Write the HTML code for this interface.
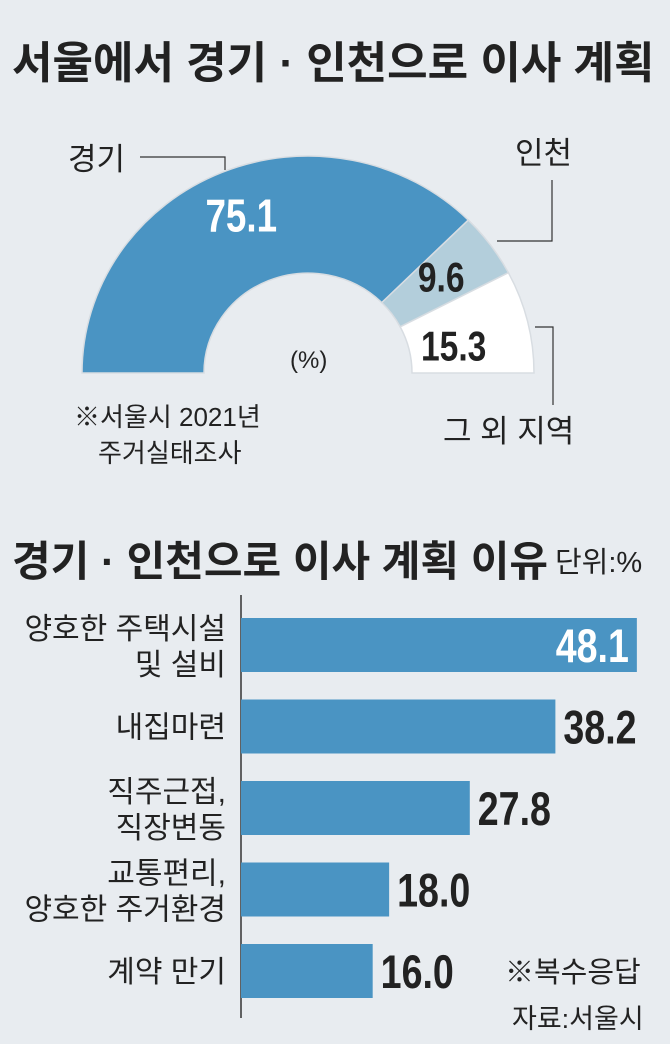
<!DOCTYPE html>
<html><head><meta charset="utf-8"><style>
body{margin:0;width:670px;height:1044px;background:#e8ecf0;overflow:hidden;font-family:"Liberation Sans","Noto Sans CJK KR",sans-serif;}
svg{position:absolute;left:0;top:0}
</style></head><body>
<svg width="670" height="1044">
<text x="12" y="78" font-size="44" font-weight="bold" fill="#222" font-family="Liberation Sans, Noto Sans CJK KR, sans-serif">서울에서 경기 · 인천으로  이사 계획</text>
<g id="donut"></g>
<g id="donutLabels" font-family="Liberation Sans, Noto Sans CJK KR, sans-serif">
<text x="68" y="170" font-size="31" fill="#222">경기</text>
<polyline points="140,157 225,157 225,170" fill="none" stroke="#333" stroke-width="1.2"/>
<text x="515" y="164" font-size="31" fill="#222">인천</text>
<polyline points="552,180 552,241 497,241" fill="none" stroke="#333" stroke-width="1.2"/>
<text x="443" y="442" font-size="31" fill="#222">그 외 지역</text>
<polyline points="535,327 553,327 553,405" fill="none" stroke="#333" stroke-width="1.2"/>
<text x="290" y="368" font-size="24" fill="#222">(%)</text>
<text x="74" y="426" font-size="26" fill="#222">※서울시 2021년</text>
<text x="98" y="462" font-size="26" fill="#222">주거실태조사</text>
</g>
<text x="12" y="576" font-size="42" font-weight="bold" fill="#222" font-family="Liberation Sans, Noto Sans CJK KR, sans-serif">경기 · 인천으로 이사 계획 이유</text>
<text x="555" y="572" font-size="29" fill="#222" font-family="Liberation Sans, Noto Sans CJK KR, sans-serif">단위:%</text>
<line x1="241" y1="595" x2="241" y2="1018" stroke="#333" stroke-width="1.5"/>
<g id="bars"></g>
<text x="505" y="982" font-size="29" fill="#222" font-family="Liberation Sans, Noto Sans CJK KR, sans-serif">※복수응답</text>
<text x="512" y="1028" font-size="27" fill="#222" font-family="Liberation Sans, Noto Sans CJK KR, sans-serif">자료:서울시</text>
</svg>
<script>
const regions=["경기","인천","그 외 지역"];
const shares=[75.1,9.6,15.3];
const shareColors=["#4a94c3","#b3cedb","#ffffff"];
const reasons=[["양호한 주택시설","및 설비"],["내집마련"],["직주근접,","직장변동"],["교통편리,","양호한 주거환경"],["계약 만기"]];
const reasonValues=[48.1,38.2,27.8,18.0,16.0];
const NS="http://www.w3.org/2000/svg";
const FF="Liberation Sans, Noto Sans CJK KR, sans-serif";
const cx=308,cy=373,R=226,r=104,sy=0.96;
const dg=document.getElementById('donut');
const total=shares.reduce((a,b)=>a+b,0);
function pt(rad,ang){return [cx+rad*Math.cos(ang),cy-rad*sy*Math.sin(ang)];}
const labelR=[175,165,150];
const labelDy=[14,12,22];
let acc=0;
shares.forEach((v,i)=>{
  const a0=Math.PI*(1-acc/total), a1=Math.PI*(1-(acc+v)/total);
  const p0=pt(R,a0),p1=pt(R,a1),q1=pt(r,a1),q0=pt(r,a0);
  const p=document.createElementNS(NS,'path');
  p.setAttribute('d',`M${p0}A${R} ${R*sy} 0 0 1 ${p1}L${q1}A${r} ${r*sy} 0 0 0 ${q0}Z`);
  p.setAttribute('fill',shareColors[i]);p.setAttribute('stroke','#d8dde2');p.setAttribute('stroke-width','1.5');
  
  
  dg.appendChild(p);
  const mid=(a0+a1)/2;
  const lp=pt(labelR[i],mid);
  const t=document.createElementNS(NS,'text');
  t.setAttribute('text-anchor','middle');t.setAttribute('font-size',i===0?46:42);t.setAttribute('font-weight','bold');
  t.setAttribute('font-family',FF);t.setAttribute('fill',i===0?'#fff':'#222');
  t.setAttribute('transform','scale(0.8,1)');
  t.setAttribute('x',lp[0]/0.8);
  t.setAttribute('y',lp[1]+labelDy[i]);
  t.textContent=v.toFixed(1);
  
  
  dg.appendChild(t);
  acc+=v;
});
const bg=document.getElementById('bars');
const x0=241,unit=8.23,top0=618,step=81.5,bh=54;
function xs(v){return v*unit;}
reasonValues.forEach((v,i)=>{
  const y=top0+i*step;
  const b=document.createElementNS(NS,'rect');
  b.setAttribute('x',x0);b.setAttribute('y',y);b.setAttribute('width',xs(v));b.setAttribute('height',bh);b.setAttribute('fill','#4a94c3');
  
  
  bg.appendChild(b);
  const inside=i===0;
  const t=document.createElementNS(NS,'text');
  const tx=inside?x0+xs(v)-8:x0+xs(v)+8;
  t.setAttribute('x',tx/0.8);t.setAttribute('transform','scale(0.8,1)');
  t.setAttribute('y',y+bh/2+17);t.setAttribute('font-size',47);t.setAttribute('font-weight','bold');
  t.setAttribute('font-family',FF);t.setAttribute('fill',inside?'#fff':'#222');
  t.setAttribute('text-anchor',inside?'end':'start');
  t.textContent=v.toFixed(1);
  
  
  bg.appendChild(t);
  const lines=reasons[i];
  lines.forEach((ln,j)=>{
    const l=document.createElementNS(NS,'text');
    l.setAttribute('x',226);l.setAttribute('text-anchor','end');l.setAttribute('font-size',30);
    l.setAttribute('font-family',FF);l.setAttribute('fill','#222');
    const off=lines.length===1?11:(j===0?-6:30);
    l.setAttribute('y',y+bh/2+off);
    l.textContent=ln;
    
    
    bg.appendChild(l);
  });
});
</script>
</body></html>
